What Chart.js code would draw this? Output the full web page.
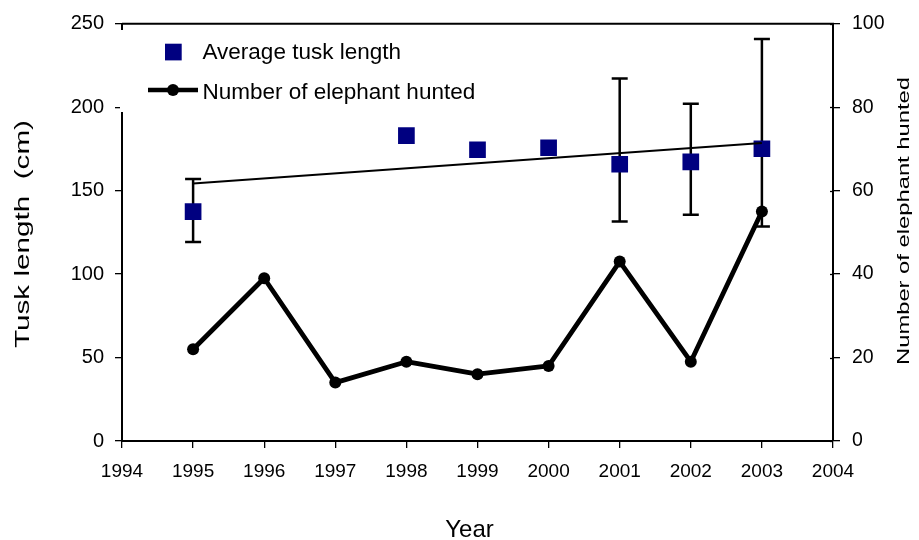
<!DOCTYPE html>
<html><head><meta charset="utf-8">
<script src="https://cdn.jsdelivr.net/npm/chart.js@4.4.1/dist/chart.umd.min.js"></script>
<style>html,body{margin:0;padding:0;background:#fff;}#wrap{width:919px;height:540px;}</style>
</head><body><div id="wrap"><canvas id="c" width="919" height="540"></canvas></div>
<script>
// ---- data ----
const years = [1995, 1996, 1997, 1998, 1999, 2000, 2001, 2002, 2003];
const huntedCount = [22, 39, 14, 19, 16, 18, 43, 19, 55];
const tuskYears = [1995, 1998, 1999, 2000, 2001, 2002, 2003];
const tuskLength = [137.4, 183.0, 174.5, 175.7, 165.8, 167.2, 175.1];
const tuskErrHigh = [156.9, null, null, null, 217.1, 202.1, 240.9];
const tuskErrLow = [119.2, null, null, null, 131.5, 135.5, 128.5];
const trendYears = [1995, 2003];
const trendLength = [154.3, 178.6];
const xTickValues = [1994, 1995, 1996, 1997, 1998, 1999, 2000, 2001, 2002, 2003, 2004];
const leftTickValues = [0, 50, 100, 150, 200, 250];
const rightTickValues = [0, 20, 40, 60, 80, 100];
const labelTusk = 'Average tusk length';
const labelHunted = 'Number of elephant hunted';
const titleLeft = 'Tusk length  (cm)';
const titleRight = 'Number of elephant hunted';
const titleX = 'Year';

const FONT = "'Liberation Sans', Arial, sans-serif";
const NAVY = '#000080';

const errorBars = {
  id: 'errorBars',
  beforeDatasetsDraw(chart) {
    const ctx = chart.ctx, xs = chart.scales.x, ys = chart.scales.y;
    ctx.save();
    ctx.strokeStyle = '#000';
    ctx.lineWidth = 2.5;
    tuskYears.forEach((yr, i) => {
      if (tuskErrHigh[i] == null) return;
      const x = xs.getPixelForValue(yr);
      const yh = ys.getPixelForValue(tuskErrHigh[i]);
      const yl = ys.getPixelForValue(tuskErrLow[i]);
      ctx.beginPath();
      ctx.moveTo(x, yh); ctx.lineTo(x, yl);
      ctx.moveTo(x - 8, yh); ctx.lineTo(x + 8, yh);
      ctx.moveTo(x - 8, yl); ctx.lineTo(x + 8, yl);
      ctx.stroke();
    });
    ctx.restore();
  }
};

function stretchedText(ctx, text, cx, baseX, font, length) {
  ctx.save();
  ctx.font = font;
  const w = ctx.measureText(text).width;
  ctx.translate(baseX, cx);
  ctx.rotate(-Math.PI / 2);
  ctx.scale(length / w, 1);
  ctx.textAlign = 'center';
  ctx.textBaseline = 'alphabetic';
  ctx.fillStyle = '#000';
  ctx.fillText(text, 0, 0);
  ctx.restore();
}

const decor = {
  id: 'decor',
  afterDraw(chart) {
    const ctx = chart.ctx, a = chart.chartArea, y2 = chart.scales.y2;
    ctx.save();
    // top frame line
    ctx.strokeStyle = '#000';
    ctx.lineWidth = 2;
    ctx.beginPath();
    ctx.moveTo(a.left, a.top); ctx.lineTo(a.right + 1, a.top);
    ctx.stroke();
    // inner part of right-axis ticks
    ctx.lineWidth = 1.3;
    rightTickValues.forEach(v => {
      const y = Math.round(y2.getPixelForValue(v)) + 0.5;
      ctx.beginPath(); ctx.moveTo(a.right - 3, y); ctx.lineTo(a.right, y); ctx.stroke();
    });
    // legend white background overlapping the left axis
    ctx.fillStyle = '#fff';
    ctx.fillRect(a.left - 2, 30, 5, 82);
    // legend
    ctx.fillStyle = NAVY;
    ctx.fillRect(165, 43.7, 16.7, 16.7);
    ctx.strokeStyle = '#000';
    ctx.lineWidth = 4.5;
    ctx.beginPath(); ctx.moveTo(148, 90); ctx.lineTo(198, 90); ctx.stroke();
    ctx.fillStyle = '#000';
    ctx.beginPath(); ctx.arc(173, 90, 6, 0, Math.PI * 2); ctx.fill();
    ctx.font = '22.5px ' + FONT;
    ctx.textAlign = 'left';
    ctx.textBaseline = 'alphabetic';
    ctx.fillText(labelTusk, 202.5, 59.3);
    ctx.fillText(labelHunted, 202.5, 99);
    // x axis title
    ctx.font = '24px ' + FONT;
    ctx.textAlign = 'center';
    ctx.fillText(titleX, 469.5, 536.5);
    ctx.restore();
    // axis titles (rotated, reading bottom to top)
    stretchedText(ctx, titleLeft, 234, 28.9, '21px ' + FONT, 228);
    stretchedText(ctx, titleRight, 221, 908.6, '16.5px ' + FONT, 288);
  }
};

const tickFont = { family: FONT, size: 20 };

new Chart(document.getElementById('c'), {
  data: {
    datasets: [
      {
        type: 'scatter', label: labelTusk, yAxisID: 'y', order: 3,
        data: tuskYears.map((x, i) => ({ x, y: tuskLength[i] })),
        pointStyle: 'rect', pointRadius: 11.8, pointHoverRadius: 11.8,
        backgroundColor: NAVY, borderColor: NAVY, borderWidth: 0, showLine: false
      },
      {
        type: 'line', label: 'trend', yAxisID: 'y', order: 2,
        data: trendYears.map((x, i) => ({ x, y: trendLength[i] })),
        borderColor: '#000', borderWidth: 2, pointRadius: 0, fill: false
      },
      {
        type: 'line', label: labelHunted, yAxisID: 'y2', order: 1,
        data: years.map((x, i) => ({ x, y: huntedCount[i] })),
        borderColor: '#000', borderWidth: 4.8, tension: 0, fill: false,
        pointRadius: 6, pointHoverRadius: 6, pointBackgroundColor: '#000', pointBorderWidth: 0,
        borderJoinStyle: 'round'
      }
    ]
  },
  options: {
    responsive: false, animation: false, devicePixelRatio: 1, events: [],
    layout: { padding: { top: 21, left: 0, right: 0, bottom: 0 } },
    plugins: { legend: { display: false }, tooltip: { enabled: false } },
    scales: {
      x: {
        type: 'linear', position: 'bottom', min: 1994, max: 2004,
        afterBuildTicks: s => { s.ticks = xTickValues.map(v => ({ value: v })); },
        afterFit: s => { s.height = 99; },
        ticks: { color: '#000', font: { family: FONT, size: 19 }, padding: 12, maxRotation: 0, autoSkip: false, callback: v => String(v) },
        grid: { display: true, drawOnChartArea: false, drawTicks: true, tickLength: 7, color: '#000', lineWidth: 1.3 },
        border: { display: true, color: '#000', width: 2 },
        title: { display: false }
      },
      y: {
        type: 'linear', position: 'left', min: 0, max: 250,
        afterBuildTicks: s => { s.ticks = leftTickValues.map(v => ({ value: v })); },
        afterFit: s => { s.width = 122; },
        ticks: { color: '#000', font: tickFont, padding: 11, callback: v => String(v) },
        grid: { display: true, drawOnChartArea: false, drawTicks: true, tickLength: 7, color: '#000', lineWidth: 1.3 },
        border: { display: true, color: '#000', width: 2 }
      },
      y2: {
        type: 'linear', position: 'right', min: 0, max: 100,
        afterBuildTicks: s => { s.ticks = rightTickValues.map(v => ({ value: v })); },
        afterFit: s => { s.width = 86; },
        ticks: { color: '#000', font: { family: FONT, size: 19.5 }, padding: 12, callback: v => String(v) },
        grid: { display: true, drawOnChartArea: false, drawTicks: true, tickLength: 7, color: '#000', lineWidth: 1.3 },
        border: { display: true, color: '#000', width: 2 }
      }
    }
  },
  plugins: [errorBars, decor]
});
</script>
</body></html>
